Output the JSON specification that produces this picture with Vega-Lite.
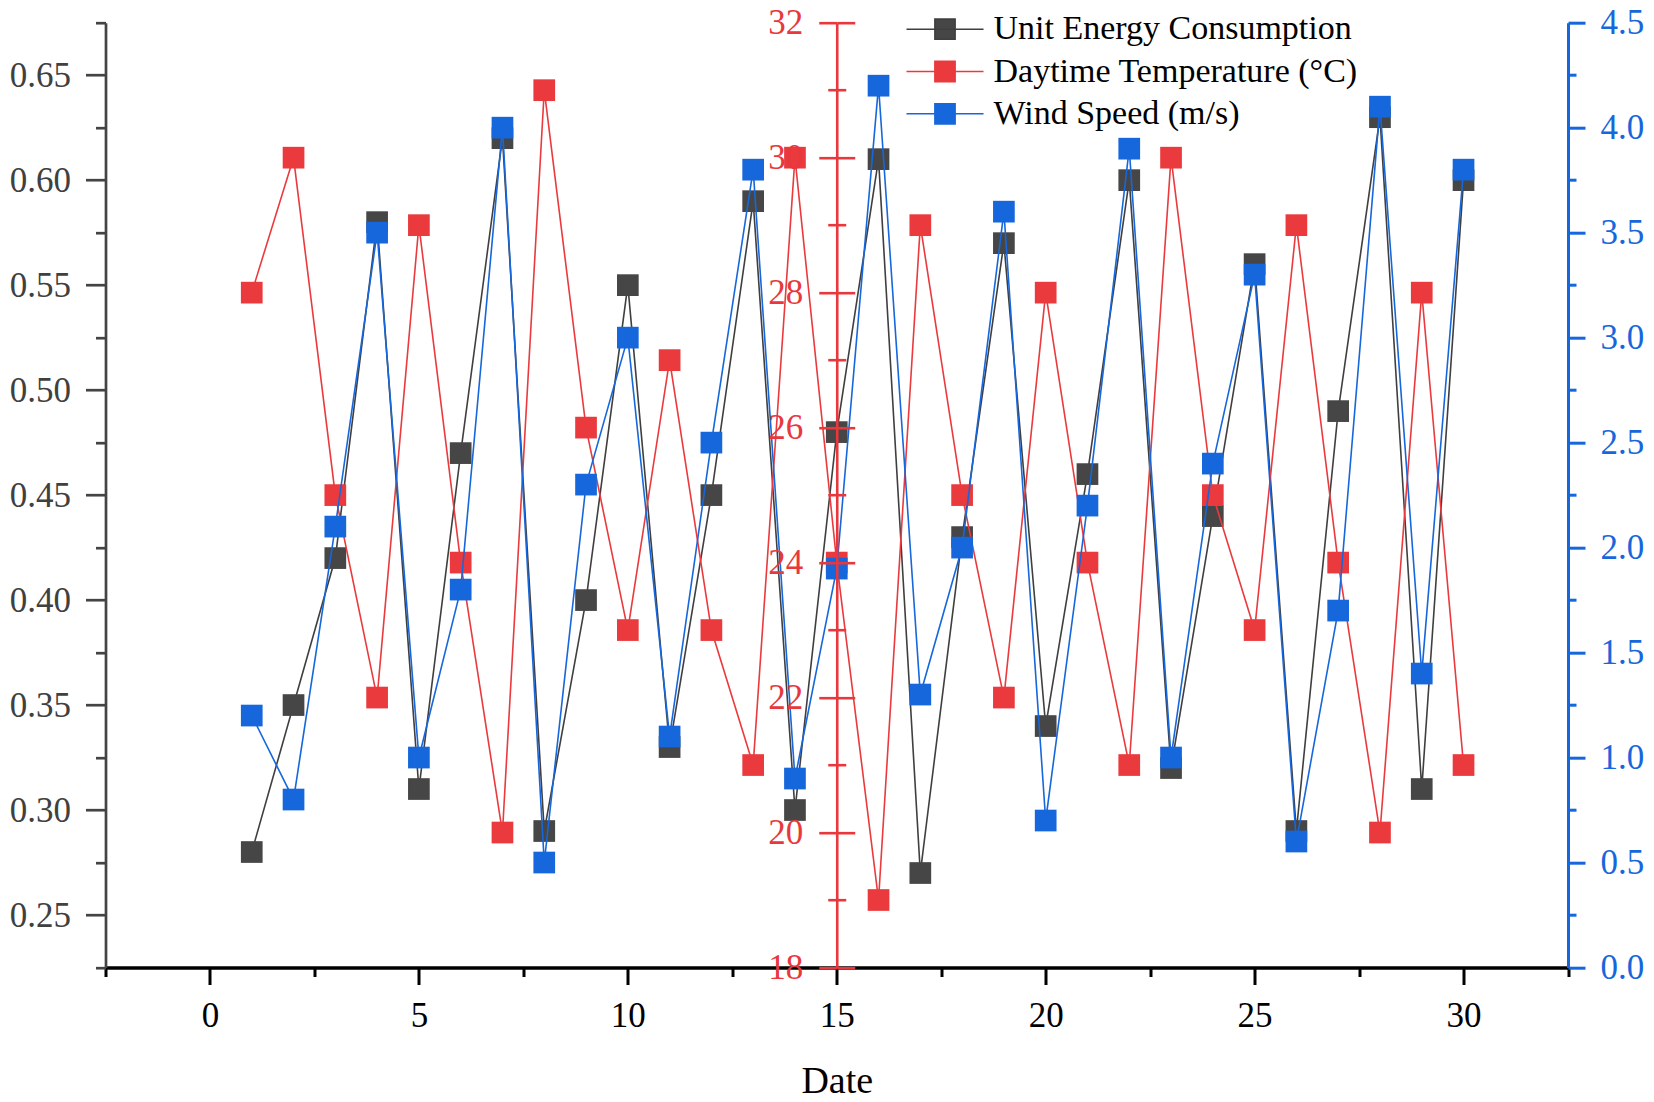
{
  "$schema": "https://vega.github.io/schema/vega-lite/v6.json",
  "description": "Unit energy consumption, daytime temperature and wind speed by date, three y axes.",
  "autosize": {"type": "none"},
  "padding": {"left": 105.5, "top": 22.7, "right": 86, "bottom": 134.5},
  "width": 1462.5,
  "height": 944.8,
  "data": {
    "values": [
      {"Date": 1, "UEC": 0.28, "Temp": 28, "Wind": 1.2},
      {"Date": 2, "UEC": 0.35, "Temp": 30, "Wind": 0.8},
      {"Date": 3, "UEC": 0.42, "Temp": 25, "Wind": 2.1},
      {"Date": 4, "UEC": 0.58, "Temp": 22, "Wind": 3.5},
      {"Date": 5, "UEC": 0.31, "Temp": 29, "Wind": 1.0},
      {"Date": 6, "UEC": 0.47, "Temp": 24, "Wind": 1.8},
      {"Date": 7, "UEC": 0.62, "Temp": 20, "Wind": 4.0},
      {"Date": 8, "UEC": 0.29, "Temp": 31, "Wind": 0.5},
      {"Date": 9, "UEC": 0.40, "Temp": 26, "Wind": 2.3},
      {"Date": 10, "UEC": 0.55, "Temp": 23, "Wind": 3.0},
      {"Date": 11, "UEC": 0.33, "Temp": 27, "Wind": 1.1},
      {"Date": 12, "UEC": 0.45, "Temp": 23, "Wind": 2.5},
      {"Date": 13, "UEC": 0.59, "Temp": 21, "Wind": 3.8},
      {"Date": 14, "UEC": 0.30, "Temp": 30, "Wind": 0.9},
      {"Date": 15, "UEC": 0.48, "Temp": 24, "Wind": 1.9},
      {"Date": 16, "UEC": 0.61, "Temp": 19, "Wind": 4.2},
      {"Date": 17, "UEC": 0.27, "Temp": 29, "Wind": 1.3},
      {"Date": 18, "UEC": 0.43, "Temp": 25, "Wind": 2.0},
      {"Date": 19, "UEC": 0.57, "Temp": 22, "Wind": 3.6},
      {"Date": 20, "UEC": 0.34, "Temp": 28, "Wind": 0.7},
      {"Date": 21, "UEC": 0.46, "Temp": 24, "Wind": 2.2},
      {"Date": 22, "UEC": 0.60, "Temp": 21, "Wind": 3.9},
      {"Date": 23, "UEC": 0.32, "Temp": 30, "Wind": 1.0},
      {"Date": 24, "UEC": 0.44, "Temp": 25, "Wind": 2.4},
      {"Date": 25, "UEC": 0.56, "Temp": 23, "Wind": 3.3},
      {"Date": 26, "UEC": 0.29, "Temp": 29, "Wind": 0.6},
      {"Date": 27, "UEC": 0.49, "Temp": 24, "Wind": 1.7},
      {"Date": 28, "UEC": 0.63, "Temp": 20, "Wind": 4.1},
      {"Date": 29, "UEC": 0.31, "Temp": 28, "Wind": 1.4},
      {"Date": 30, "UEC": 0.60, "Temp": 21, "Wind": 3.8}
    ]
  },
  "encoding": {
    "x": {
      "field": "Date", "type": "quantitative",
      "scale": {"domain": [-2.5, 32.5], "nice": false, "zero": false},
      "axis": {
        "orient": "bottom", "title": "Date", "zindex": 1,
        "values": [-2.5, 0, 2.5, 5, 7.5, 10, 12.5, 15, 17.5, 20, 22.5, 25, 27.5, 30, 32.5],
        "labelExpr": "datum.value % 5 === 0 ? datum.label : ''",
        "domainColor": "#000000", "domainWidth": 3.3,
        "tickColor": "#000000", "tickWidth": 3,
        "tickSize": {"condition": {"test": "datum.value % 5 === 0", "value": 17}, "value": 9},
        "labelColor": "#000000", "labelPadding": 14,
        "titleColor": "#000000", "titlePadding": 29
      }
    }
  },
  "layer": [
    {
      "mark": {"type": "line", "strokeWidth": 1.6},
      "encoding": {
        "y": {
          "field": "UEC", "type": "quantitative",
          "scale": {"domain": [0.225, 0.675], "nice": false, "zero": false},
          "axis": {
            "orient": "left", "title": null, "format": ".2f", "zindex": 1,
            "values": [0.225, 0.25, 0.275, 0.3, 0.325, 0.35, 0.375, 0.4, 0.425, 0.45, 0.475, 0.5, 0.525, 0.55, 0.575, 0.6, 0.625, 0.65, 0.675],
            "labelExpr": "abs(datum.value * 20 - round(datum.value * 20)) < 0.001 ? datum.label : ''",
            "domainColor": "#444444", "domainWidth": 2.7,
            "tickColor": "#444444", "tickWidth": 2.7,
            "tickSize": {"condition": {"test": "abs(datum.value * 20 - round(datum.value * 20)) < 0.001", "value": 20}, "value": 10},
            "labelColor": "#404040", "labelPadding": 15
          }
        },
        "stroke": {
          "datum": "Unit Energy Consumption",
          "scale": {
            "domain": ["Unit Energy Consumption", "Daytime Temperature (°C)", "Wind Speed (m/s)"],
            "range": ["#3f3f3f", "#EA3A3D", "#1667DC"]
          },
          "legend": {
            "title": null, "orient": "none", "legendX": 822.5, "legendY": -10.5,
            "symbolType": "M-3.55,0H3.55M-0.93,-0.93H0.93V0.93H-0.93Z", "symbolSize": 471, "symbolStrokeWidth": 1.6,
            "labelOffset": 31.5, "rowPadding": 8.3, "padding": 0, "labelLimit": 600,
            "labelFont": "Liberation Serif", "labelFontSize": 34, "labelColor": "#000000"
          }
        }
      }
    },
    {
      "mark": {"type": "point", "shape": "square", "filled": true, "size": 471, "opacity": 1},
      "encoding": {
        "y": {
          "field": "UEC", "type": "quantitative",
          "scale": {"domain": [0.225, 0.675], "nice": false, "zero": false},
          "axis": null
        },
        "color": {
          "datum": "Unit Energy Consumption",
          "scale": {
            "domain": ["Unit Energy Consumption", "Daytime Temperature (°C)", "Wind Speed (m/s)"],
            "range": ["#464646", "#EA3A3D", "#1667DC"]
          },
          "legend": {
            "title": null, "orient": "none", "legendX": 822.5, "legendY": -10.5,
            "symbolType": "M-3.55,0H3.55M-0.93,-0.93H0.93V0.93H-0.93Z", "symbolSize": 471, "symbolStrokeWidth": 1.6,
            "labelOffset": 31.5, "rowPadding": 8.3, "padding": 0, "labelLimit": 600,
            "labelFont": "Liberation Serif", "labelFontSize": 34, "labelColor": "#000000"
          }
        }
      }
    },
    {
      "mark": {"type": "line", "strokeWidth": 1.6},
      "encoding": {
        "y": {
          "field": "Temp", "type": "quantitative",
          "scale": {"domain": [18, 32], "nice": false, "zero": false},
          "axis": {
            "orient": "left", "offset": -731.25, "title": null, "zindex": 1,
            "values": [18, 19, 20, 21, 22, 23, 24, 25, 26, 27, 28, 29, 30, 31, 32],
            "labelExpr": "datum.value % 2 === 0 ? datum.label : ''",
            "domainColor": "#E8383D", "domainWidth": 2.6,
            "tickColor": "#E8383D", "tickWidth": 2.6,
            "tickSize": {"condition": {"test": "datum.value % 2 === 0", "value": 18}, "value": 9},
            "labelColor": "#E8383D", "labelPadding": 16
          }
        },
        "stroke": {
          "datum": "Daytime Temperature (°C)",
          "legend": {
            "title": null, "orient": "none", "legendX": 822.5, "legendY": -10.5,
            "symbolType": "M-3.55,0H3.55M-0.93,-0.93H0.93V0.93H-0.93Z", "symbolSize": 471, "symbolStrokeWidth": 1.6,
            "labelOffset": 31.5, "rowPadding": 8.3, "padding": 0, "labelLimit": 600,
            "labelFont": "Liberation Serif", "labelFontSize": 34, "labelColor": "#000000"
          }
        }
      }
    },
    {
      "mark": {"type": "point", "shape": "square", "filled": true, "size": 471, "opacity": 1},
      "encoding": {
        "y": {
          "field": "Temp", "type": "quantitative",
          "scale": {"domain": [18, 32], "nice": false, "zero": false},
          "axis": {
            "orient": "right", "offset": -731.25, "title": null, "zindex": 1,
            "values": [18, 19, 20, 21, 22, 23, 24, 25, 26, 27, 28, 29, 30, 31, 32],
            "labels": false, "domain": false,
            "tickColor": "#E8383D", "tickWidth": 2.6,
            "tickSize": {"condition": {"test": "datum.value % 2 === 0", "value": 18}, "value": 9}
          }
        },
        "color": {
          "datum": "Daytime Temperature (°C)",
          "legend": {
            "title": null, "orient": "none", "legendX": 822.5, "legendY": -10.5,
            "symbolType": "M-3.55,0H3.55M-0.93,-0.93H0.93V0.93H-0.93Z", "symbolSize": 471, "symbolStrokeWidth": 1.6,
            "labelOffset": 31.5, "rowPadding": 8.3, "padding": 0, "labelLimit": 600,
            "labelFont": "Liberation Serif", "labelFontSize": 34, "labelColor": "#000000"
          }
        }
      }
    },
    {
      "mark": {"type": "line", "strokeWidth": 1.6},
      "encoding": {
        "y": {
          "field": "Wind", "type": "quantitative",
          "scale": {"domain": [0, 4.5], "nice": false, "zero": false},
          "axis": {
            "orient": "right", "title": null, "format": ".1f", "zindex": 1,
            "values": [0, 0.25, 0.5, 0.75, 1, 1.25, 1.5, 1.75, 2, 2.25, 2.5, 2.75, 3, 3.25, 3.5, 3.75, 4, 4.25, 4.5],
            "labelExpr": "abs(datum.value * 2 - round(datum.value * 2)) < 0.001 ? datum.label : ''",
            "domainColor": "#1767DC", "domainWidth": 3,
            "tickColor": "#1767DC", "tickWidth": 3,
            "tickSize": {"condition": {"test": "abs(datum.value * 2 - round(datum.value * 2)) < 0.001", "value": 17}, "value": 8},
            "labelColor": "#1767DC", "labelPadding": 15
          }
        },
        "stroke": {
          "datum": "Wind Speed (m/s)",
          "legend": {
            "title": null, "orient": "none", "legendX": 822.5, "legendY": -10.5,
            "symbolType": "M-3.55,0H3.55M-0.93,-0.93H0.93V0.93H-0.93Z", "symbolSize": 471, "symbolStrokeWidth": 1.6,
            "labelOffset": 31.5, "rowPadding": 8.3, "padding": 0, "labelLimit": 600,
            "labelFont": "Liberation Serif", "labelFontSize": 34, "labelColor": "#000000"
          }
        }
      }
    },
    {
      "mark": {"type": "point", "shape": "square", "filled": true, "size": 471, "opacity": 1},
      "encoding": {
        "y": {
          "field": "Wind", "type": "quantitative",
          "scale": {"domain": [0, 4.5], "nice": false, "zero": false},
          "axis": null
        },
        "color": {
          "datum": "Wind Speed (m/s)",
          "legend": {
            "title": null, "orient": "none", "legendX": 822.5, "legendY": -10.5,
            "symbolType": "M-3.55,0H3.55M-0.93,-0.93H0.93V0.93H-0.93Z", "symbolSize": 471, "symbolStrokeWidth": 1.6,
            "labelOffset": 31.5, "rowPadding": 8.3, "padding": 0, "labelLimit": 600,
            "labelFont": "Liberation Serif", "labelFontSize": 34, "labelColor": "#000000"
          }
        }
      }
    }
  ],
  "resolve": {"scale": {"y": "independent"}},
  "config": {
    "view": {"stroke": null},
    "font": "Liberation Serif",
    "axis": {
      "grid": false,
      "labelFont": "Liberation Serif", "labelFontSize": 35,
      "titleFont": "Liberation Serif", "titleFontSize": 38, "titleFontWeight": "normal",
      "labelOverlap": false, "labelFlush": false, "labelBound": false
    }
  }
}
